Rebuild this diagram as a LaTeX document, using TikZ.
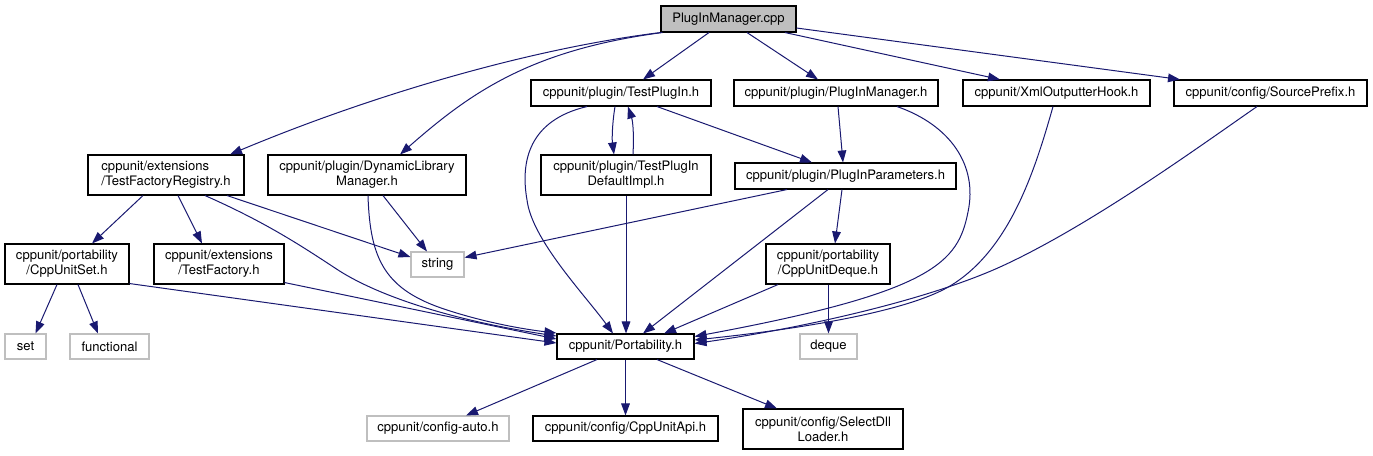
\documentclass[tikz,border=0pt]{standalone}
\usepackage{fontspec}
\setmainfont{TeX Gyre Heros}
\usetikzlibrary{calc,positioning,arrows.meta}
\definecolor{incblue}{HTML}{191970}
\definecolor{incgray}{HTML}{BFBFBF}
\tikzset{
 inc node/.style={draw=black,fill=white,line width=.8pt,inner sep=0pt,
                  align=center,font=\fontsize{9.8}{11.4}\selectfont},
 inc root/.style={inc node,fill=incgray},
 inc ext/.style={inc node,draw=incgray},
 inc size/.style 2 args={minimum width=#1*.75pt,minimum height=#2*.75pt},
 inc edge/.style={draw=incblue,line width=.75pt,
                  -{Triangle[length=9pt,width=6.5pt]}}
}
\begin{document}
\begin{tikzpicture}[x=.75pt,y=-.75pt]
 \useasboundingbox (0,0) rectangle (1373,455);
 \node[inc root,inc size={135}{26}] (root) at (728.5,19) {PlugInManager.cpp};
 \node[inc node,inc size={180}{26}] (tpi) at (621,93) {cppunit/plugin/TestPlugIn.h};
 \node[inc node,inc size={204}{26}] (pim) at (836,93) {cppunit/plugin/PlugInManager.h};
 \node[inc node,inc size={187}{26}] (xoh) at (1056.5,93) {cppunit/XmlOutputterHook.h};
 \node[inc node,inc size={193}{26}] (spx) at (1270.5,93) {cppunit/config/SourcePrefix.h};
 \node[inc node,inc size={156}{40},align=left] (tfr) at (166,175)
   {cppunit/extensions\\/TestFactoryRegistry.h};
 \node[inc node,inc size={198}{40}] (dlm) at (367,175)
   {cppunit/plugin/DynamicLibrary\\Manager.h};
 \node[inc node,inc size={170}{40}] (tpd) at (626,175)
   {cppunit/plugin/TestPlugIn\\DefaultImpl.h};
 \node[inc node,inc size={221}{26}] (pip) at (845.5,176) {cppunit/plugin/PlugInParameters.h};
 \node[inc node,inc size={124}{40}] (cus) at (67,264) {cppunit/portability\\/CppUnitSet.h};
 \node[inc node,inc size={130}{40}] (tfy) at (219,264) {cppunit/extensions\\/TestFactory.h};
 \node[inc ext,inc size={53}{25}] (str) at (437.5,264.5) {string};
 \node[inc node,inc size={124}{40}] (cud) at (828,264) {cppunit/portability\\/CppUnitDeque.h};
 \node[inc ext,inc size={41}{25}] (set) at (25.5,346.5) {set};
 \node[inc ext,inc size={79}{25}] (fun) at (109.5,346.5) {functional};
 \node[inc node,inc size={137}{25}] (por) at (625.5,346.5) {cppunit/Portability.h};
 \node[inc ext,inc size={57}{25}] (deq) at (828.5,346.5) {deque};
 \node[inc ext,inc size={142}{25}] (cfa) at (438,428.5) {cppunit/config-auto.h};
 \node[inc node,inc size={185}{25}] (api) at (625.5,428.5) {cppunit/config/CppUnitApi.h};
 \node[inc node,inc size={160}{40}] (sdl) at (823,429) {cppunit/config/SelectDll\\Loader.h};

 \foreach \a/\ax/\ay/\b/\bx/\by in {
   root.south/-19.5/0/tpi.north/22/0, root.south/18.5/0/pim.north/-18/0,
   root.south/56.5/0/xoh.north/-56.5/0, root.east/0/9/spx.north/-90.5/0,
   tpi.south/36/0/pip.north/-33.5/0, tpd.south/0/0/por.north/0.5/0,
   pim.south/2/0/pip.north/-2.5/0, pip.south/-58.5/0/str.east/0/-7,
   pip.south/-17.5/0/por.north/17.5/0, pip.south/-3.5/0/cud.north/7/0,
   tfr.south/-23/0/cus.north/25/0, tfr.south/12/0/tfy.north/-17/0,
   tfr.south/61/0/str.west/0/-7.5, dlm.south/16/0/str.north/-10.5/0,
   cus.south/-10/0/set.north/10/0, cus.south/11/0/fun.north/-11.5/0,
   cus.south east/0/-1/por.west/0/-3.5, tfy.south east/0/-2/por.west/0/-7.5,
   cud.south/-50/0/por.north/38.5/0, cud.south/0.5/0/deq.north/0/0,
   por.south/-28.5/0/cfa.north/28/0, por.south/0/0/api.north/0/0,
   por.south/31.5/0/sdl.north/-46/0}
   \draw[inc edge] ($(\a)+(\ax,\ay)$) -- ($(\b)+(\bx,\by)$);

 \draw[inc edge] (root.south west) .. controls (520,50) and (360,100)
   .. ($(tfr.north)+(64,0)$);
 \draw[inc edge] ($(root.south west)+(2,0)$) .. controls (530,50) and (470,93)
   .. ($(dlm.north)+(33,0)$);
 \draw[inc edge] ($(tpi.south)+(-6,0)$) .. controls (612,125) and (612,140)
   .. ($(tpd.north)+(-12,0)$);
 \draw[inc edge] ($(tpd.north)+(7,0)$) .. controls (634,135) and (633,122)
   .. ($(tpi.south)+(7,0)$);
 \draw[inc edge] ($(tpi.south)+(-34,0)$) .. controls (530,120) and (520,160) .. (527,200)
   .. controls (532,240) and (585,295) .. ($(por.north)+(-12.5,0)$);
 \draw[inc edge] ($(pim.south)+(61,0)$) .. controls (950,125) and (978,165) .. (968,212)
   .. controls (958,262) and (935,292) .. ($(por.east)+(0,-10)$);
 \draw[inc edge] ($(xoh.south)+(-3.5,0)$) .. controls (1035,170) and (1010,250) .. (950,286)
   .. controls (905,313) and (790,330) .. ($(por.east)+(0,-6.5)$);
 \draw[inc edge] ($(spx.south)+(-13.5,0)$) .. controls (1200,146) and (1090,226) .. (1000,267)
   .. controls (920,303) and (790,330) .. ($(por.east)+(0,-3)$);
 \draw[inc edge] ($(tfr.south)+(39,0)$) .. controls (265,222) and (300,245) .. (335,268)
   .. controls (375,295) and (450,320) .. ($(por.west)+(0,-10.5)$);
 \draw[inc edge] ($(dlm.south)+(1,0)$) .. controls (370,260) and (385,290) .. (447,310)
   .. controls (490,324) and (530,330) .. ($(por.west)+(0,-13.5)$);
\end{tikzpicture}
\end{document}
